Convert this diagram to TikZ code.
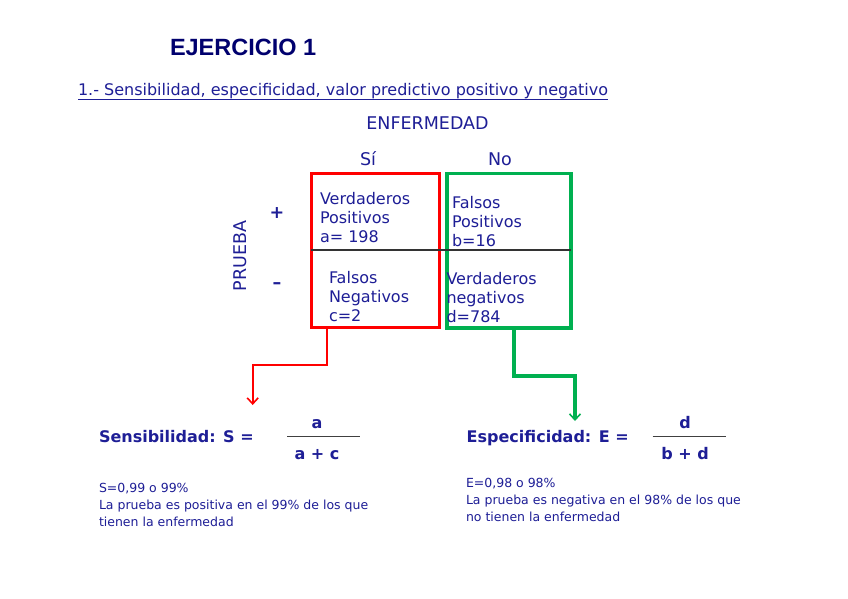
\documentclass[tikz,border=0pt]{standalone}
\usepackage{fontspec}
\setmainfont{DejaVu Sans}
\newfontfamily\arialfont{Liberation Sans}
\usetikzlibrary{arrows.meta}
\definecolor{txtblue}{RGB}{30,30,150}
\definecolor{titleblue}{RGB}{0,0,110}
\definecolor{boxred}{RGB}{255,0,0}
\definecolor{boxgreen}{RGB}{0,176,80}
\begin{document}
\begin{tikzpicture}[x=1pt,y=-1pt,
  every node/.style={inner sep=0pt, outer sep=0pt, text=txtblue},
  celltext/.style={anchor=base west, align=left, font=\fontsize{16}{19}\selectfont},
  hdr/.style={anchor=base, font=\fontsize{17.5}{20}\selectfont},
  boldf/.style={font=\bfseries\fontsize{16}{18}\selectfont},
  small/.style={anchor=base west, align=left, font=\fontsize{12.5}{17}\selectfont},
  arr/.style={-{Straight Barb[length=6pt,width=11pt,line width=1.6pt]}}
]
\useasboundingbox (0,0) rectangle (848,599);
\fill[white] (0,0) rectangle (848,599);

% title
\node[anchor=base west, text=titleblue, font=\arialfont\bfseries\fontsize{23.5}{26}\selectfont] (title) at (170,56) {EJERCICIO 1};
\node[anchor=base west, font=\fontsize{16}{18}\selectfont] (sub) at (78,96) {1.- Sensibilidad, especificidad, valor predictivo positivo y negativo};
\draw[txtblue, line width=0.9pt] (sub.west |- 0,99.5) -- (sub.east |- 0,99.5);

% headers
\node[hdr] (enf) at (427.5,129) {ENFERMEDAD};
\node[hdr] (si) at (368,165) {Sí};
\node[hdr] (no) at (500,165) {No};
\node[font=\bfseries\fontsize{17.5}{20}\selectfont] (plus) at (277,213) {+};
\node[font=\bfseries\fontsize{17.5}{20}\selectfont] (minus) at (277,286) {–};
\node[font=\fontsize{17.5}{20}\selectfont, rotate=90] (prueba) at (240,256) {PRUEBA};

% boxes
\node[draw=boxred, line width=3pt, minimum width=128pt, minimum height=154pt] (redbox) at (375,250.5) {};
\node[draw=boxgreen, line width=3.8pt, minimum width=124.3pt, minimum height=154.5pt] (greenbox) at (508.8,250.75) {};
\draw[black!80, line width=1.1pt] (redbox.west |- 0,250) -- (greenbox.east |- 0,250);

% cell texts (base anchor = last line)
\node[celltext] (vp) at (320,242) {Verdaderos\\Positivos\\a= 198};
\node[celltext] (fp) at (452,246) {Falsos\\Positivos\\b=16};
\node[celltext] (fn) at (329,321.7) {Falsos\\Negativos\\c=2};
\node[celltext] (vn) at (446.5,322.7) {Verdaderos\\negativos\\d=784};

% arrows
\coordinate (redstart) at (327,329);
\coordinate (redend) at (252.7,405);
\coordinate (greenstart) at (514,330);
\coordinate (greenend) at (575,421);
\draw[arr, boxred, line width=2.2pt] (redstart) -- ++(0,36) -| (redend);
\draw[arr, boxgreen, line width=3.2pt] (greenstart) -- ++(0,46) -| (greenend);

% formulas
\node[boldf, anchor=base west] (sens) at (99,442.7) {Sensibilidad: S =};
\node[boldf, anchor=base] (numa) at (317,428) {a};
\node[boldf, anchor=base] (dena) at (317,459) {a + c};
\draw[black!75, line width=0.9pt] (287,436.7) -- (360,436.7);

\node[boldf, anchor=base west] (espe) at (466.7,442.7) {Especificidad: E =};
\node[boldf, anchor=base] (numd) at (685,428) {d};
\node[boldf, anchor=base] (dend) at (685,459) {b + d};
\draw[black!75, line width=0.9pt] (652.7,436.7) -- (726,436.7);

% notes (base anchor = last line)
\node[small] (notes) at (99,526) {S=0,99 o 99\%\\La prueba es positiva en el 99\% de los que\\tienen la enfermedad};
\node[small] (notee) at (466,521) {E=0,98 o 98\%\\La prueba es negativa en el 98\% de los que\\no tienen la enfermedad};
\end{tikzpicture}
\end{document}
